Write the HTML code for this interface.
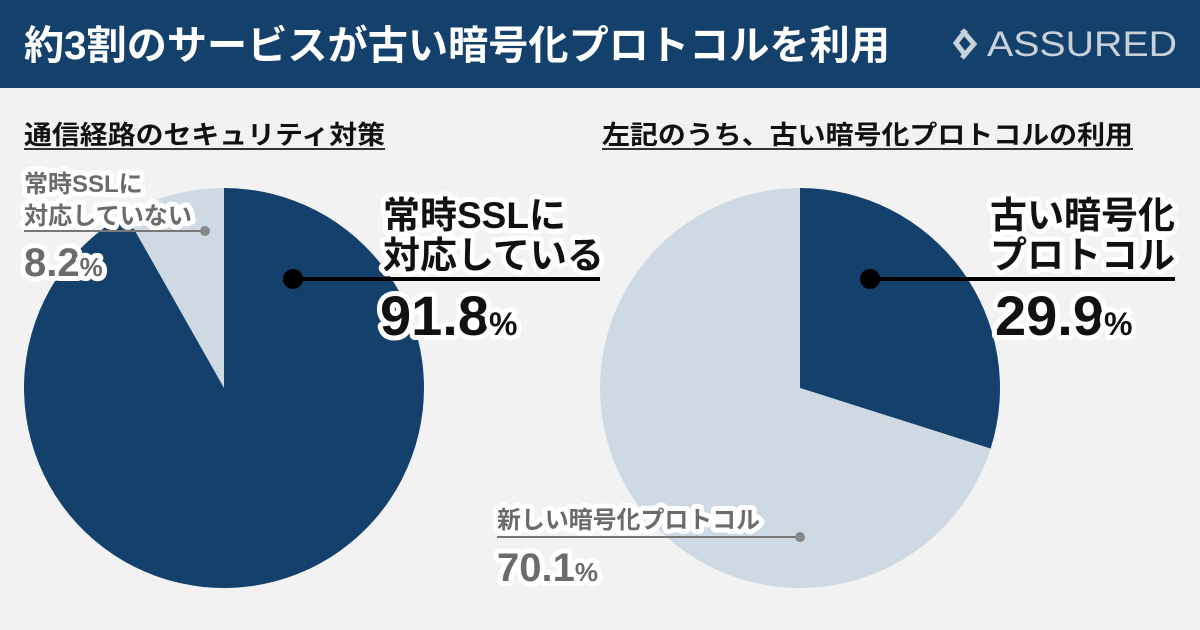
<!DOCTYPE html>
<html><head><meta charset="utf-8"><style>
html,body{margin:0;padding:0;width:1200px;height:630px;overflow:hidden;background:#f2f2f2}
svg{display:block;font-family:"Liberation Sans","Noto Sans CJK JP",sans-serif}
.halo{paint-order:stroke;stroke:#fff;stroke-width:10px;stroke-linejoin:round}
</style></head><body>
<svg id="chart" width="1200" height="630">
<rect x="0" y="0" width="1200" height="630" fill="#f2f2f2"/>
<rect x="0" y="0" width="1200" height="88" fill="#14406c"/>
<text x="24" y="59" font-size="40" font-weight="bold" fill="#fff" textLength="866" lengthAdjust="spacingAndGlyphs">約3割のサービスが古い暗号化プロトコルを利用</text>
<g>
<path d="M966 30 L956 43 L966 56 M962 58 L974 44 L962 30" stroke="#c8d0da" stroke-width="5" fill="none"/>
<text x="987" y="56" font-size="35" fill="#c8d0da" textLength="190" lengthAdjust="spacingAndGlyphs">ASSURED</text>
</g>
<text x="24" y="144" font-size="26" font-weight="bold" fill="#111" textLength="361" lengthAdjust="spacingAndGlyphs">通信経路のセキュリティ対策</text>
<line x1="24" y1="149" x2="385" y2="149" stroke="#333" stroke-width="2"/>
<text x="602" y="144" font-size="26" font-weight="bold" fill="#111" textLength="531" lengthAdjust="spacingAndGlyphs">左記のうち、古い暗号化プロトコルの利用</text>
<line x1="602" y1="149" x2="1133" y2="149" stroke="#333" stroke-width="2"/>
<g id="pies"></g>
<g id="labels">
<text class="halo" x="24" y="192" font-size="24" font-weight="bold" fill="#6b6b6b">常時SSLに</text>
<text class="halo" x="24" y="224" font-size="24" font-weight="bold" fill="#6b6b6b" textLength="168" lengthAdjust="spacingAndGlyphs">対応していない</text>
<line x1="24" y1="231" x2="205" y2="231" stroke="#777" stroke-width="2"/>
<circle cx="205" cy="231" r="5" fill="#888"/>
<text class="halo" x="24" y="276" font-size="40" font-weight="bold" fill="#6b6b6b"><tspan id="v1"></tspan><tspan font-size="26">%</tspan></text>

<text class="halo" x="383" y="228" font-size="37" font-weight="bold" fill="#111">常時SSLに</text>
<text class="halo" x="383" y="268" font-size="37" font-weight="bold" fill="#111">対応している</text>
<line x1="293" y1="279" x2="600" y2="279" stroke="#000" stroke-width="4"/>
<circle cx="293" cy="279" r="10" fill="#000"/>
<text class="halo" x="380" y="335" font-size="56" font-weight="bold" fill="#111"><tspan id="v0"></tspan><tspan font-size="32">%</tspan></text>

<text class="halo" x="1175" y="228" text-anchor="end" font-size="37" font-weight="bold" fill="#111">古い暗号化</text>
<text class="halo" x="1175" y="268" text-anchor="end" font-size="37" font-weight="bold" fill="#111">プロトコル</text>
<line x1="870" y1="279" x2="1175" y2="279" stroke="#000" stroke-width="4"/>
<circle cx="870" cy="279" r="10" fill="#000"/>
<text class="halo" x="995" y="335" font-size="56" font-weight="bold" fill="#111"><tspan id="v2"></tspan><tspan font-size="32">%</tspan></text>

<text class="halo" x="497" y="528" font-size="24" font-weight="bold" fill="#6b6b6b" textLength="263" lengthAdjust="spacingAndGlyphs">新しい暗号化プロトコル</text>
<line x1="497" y1="537" x2="800" y2="537" stroke="#777" stroke-width="2"/>
<circle cx="800" cy="537" r="5" fill="#888"/>
<text class="halo" x="497" y="581" font-size="40" font-weight="bold" fill="#6b6b6b"><tspan id="v3"></tspan><tspan font-size="26">%</tspan></text>
</g>
</svg>
<script>
const leftCategories=["常時SSLに対応している","常時SSLに対応していない"];
const leftValues=[91.8,8.2];
const rightCategories=["古い暗号化プロトコル","新しい暗号化プロトコル"];
const rightValues=[29.9,70.1];
const NS="http://www.w3.org/2000/svg";
const g=document.getElementById('pies');
function pt(cx,cy,r,a){return [cx+r*Math.sin(a),cy-r*Math.cos(a)];}
function drawPie(cx,cy,r,vals,colors,dir,names){
  const tot=vals.reduce((a,b)=>a+b,0);let start=0;
  vals.forEach((v,i)=>{
    const sweep=v/tot*2*Math.PI;
    const a0=dir*start,a1=dir*(start+sweep);
    const p0=pt(cx,cy,r,a0),p1=pt(cx,cy,r,a1);
    const large=sweep>Math.PI?1:0;const sw=dir>0?1:0;
    const p=document.createElementNS(NS,'path');
    p.setAttribute('d',`M${cx} ${cy} L${p0[0]} ${p0[1]} A${r} ${r} 0 ${large} ${sw} ${p1[0]} ${p1[1]} Z`);
    p.setAttribute('fill',colors[i]);
    
    
    g.appendChild(p);start+=sweep;
  });
}
drawPie(224,388,200,[leftValues[1],leftValues[0]],["#cfd9e3","#14406c"],-1,["slice-ssl-no","slice-ssl-yes"]);
drawPie(800,388,200,rightValues,["#14406c","#cfd9e3"],1,["slice-old-protocol","slice-new-protocol"]);
document.getElementById('v0').textContent=leftValues[0];
document.getElementById('v1').textContent=leftValues[1];
document.getElementById('v2').textContent=rightValues[0];
document.getElementById('v3').textContent=rightValues[1];
</script>
</body></html>
